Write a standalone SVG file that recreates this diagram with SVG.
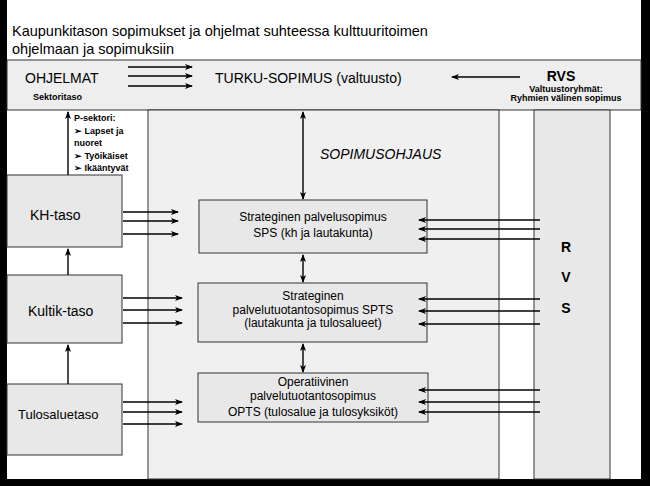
<svg xmlns="http://www.w3.org/2000/svg" width="650" height="486" viewBox="0 0 650 486">
<defs>
<marker id="a" markerWidth="8" markerHeight="6" refX="7" refY="3" orient="auto-start-reverse" markerUnits="userSpaceOnUse"><path d="M0,0 L8,3 L0,6 L2,3 Z" fill="#000"/></marker>
</defs>
<style>
text{font-family:"Liberation Sans",Arial,sans-serif;fill:#000}
.bx{fill:#e8e8e8;stroke:#333;stroke-width:1}
.ar{stroke:#000;stroke-width:1.4;fill:none;marker-end:url(#a)}
.dar{stroke:#000;stroke-width:1.4;fill:none;marker-end:url(#a);marker-start:url(#a)}
</style>
<rect width="650" height="486" fill="#000"/>
<rect x="7" y="0" width="634" height="479" fill="#fff"/>
<g id="background">
<rect x="7" y="60" width="634" height="50" fill="#eeeeee" stroke="#333"/>
<rect x="148" y="110" width="351" height="369" fill="#f0f0f0" stroke="#333"/>
<rect x="534" y="110" width="76" height="369" fill="#e8e8e8" stroke="#333"/>
</g>
<g id="title">
<text x="12" y="36" font-size="14.5">Kaupunkitason sopimukset ja ohjelmat suhteessa kulttuuritoimen</text>
<text x="12" y="54" font-size="14.5">ohjelmaan ja sopimuksiin</text>
</g>
<g id="header">
<text x="25" y="83" font-size="14">OHJELMAT</text>
<text x="33" y="100" font-size="9" font-weight="bold">Sektoritaso</text>
<text x="215" y="83" font-size="14">TURKU-SOPIMUS (valtuusto)</text>
<text x="561" y="81" font-size="14" font-weight="bold" text-anchor="middle">RVS</text>
<text x="566" y="92" font-size="9" font-weight="bold" text-anchor="middle">Valtuustoryhmät:</text>
<text x="566" y="101" font-size="9" font-weight="bold" text-anchor="middle">Ryhmien välinen sopimus</text>
</g>
<g id="psektori">
<text x="74" y="121" font-weight="bold" font-size="9">P-sektori:</text>
<text x="74" y="134" font-weight="bold" font-size="9">➢ Lapset ja</text>
<text x="74" y="146" font-weight="bold" font-size="9">nuoret</text>
<text x="74" y="159" font-weight="bold" font-size="9">➢ Työikäiset</text>
<text x="74" y="171" font-weight="bold" font-size="9">➢ Ikääntyvät</text>
</g>
<text x="320" y="159" font-size="14" font-style="italic">SOPIMUSOHJAUS</text>
<g id="rvs-col">
<text x="566" y="252" font-size="14" text-anchor="middle" font-weight="bold">R</text>
<text x="566" y="282" font-size="14" text-anchor="middle" font-weight="bold">V</text>
<text x="566" y="313" font-size="14" text-anchor="middle" font-weight="bold">S</text>
</g>
<g id="kh"><rect class="bx" x="7" y="175" width="115" height="72"/><text x="30" y="220" font-size="14">KH-taso</text></g>
<g id="kultik"><rect class="bx" x="7" y="275" width="115" height="68"/><text x="28" y="316" font-size="14">Kultik-taso</text></g>
<g id="tulos"><rect class="bx" x="7" y="384" width="115" height="71"/><text x="18" y="419" font-size="13">Tulosaluetaso</text></g>
<g id="sps"><rect class="bx" x="199" y="200" width="228" height="53"/>
<text x="313" y="221" font-size="12" text-anchor="middle">Strateginen palvelusopimus</text>
<text x="313" y="237" font-size="12" text-anchor="middle">SPS (kh ja lautakunta)</text></g>
<g id="spts"><rect class="bx" x="198" y="283" width="229" height="59"/>
<text x="313" y="300" font-size="12" text-anchor="middle">Strateginen</text>
<text x="313" y="314" font-size="12" text-anchor="middle">palvelutuotantosopimus SPTS</text>
<text x="313" y="327" font-size="12" text-anchor="middle">(lautakunta ja tulosalueet)</text></g>
<g id="opts"><rect class="bx" x="198" y="373" width="230" height="49"/>
<text x="313" y="386" font-size="12" text-anchor="middle">Operatiivinen</text>
<text x="313" y="400" font-size="12" text-anchor="middle">palvelutuotantosopimus</text>
<text x="313" y="416" font-size="12" text-anchor="middle">OPTS (tulosalue ja tulosyksiköt)</text></g>
<g id="connectors">
<path class="ar" d="M128 67H192"/><path class="ar" d="M128 76H192"/><path class="ar" d="M128 86H192"/>
<path class="ar" d="M520 77H452"/>
<path class="dar" d="M303 112V199"/>
<path class="dar" d="M303 255V282"/>
<path class="dar" d="M303 344V372"/>
<path class="ar" d="M68 175V112"/>
<path class="ar" d="M68 275V249"/>
<path class="ar" d="M68 384V345"/>
<path class="ar" d="M123 212H178"/><path class="ar" d="M123 221H178"/><path class="ar" d="M123 234H178"/>
<path class="ar" d="M123 298H182"/><path class="ar" d="M123 310H182"/><path class="ar" d="M123 323H182"/>
<path class="ar" d="M123 402H182"/><path class="ar" d="M123 412H182"/><path class="ar" d="M123 424H182"/>
<path class="ar" d="M540 220H419"/><path class="ar" d="M540 229H419"/><path class="ar" d="M540 239H419"/>
<path class="ar" d="M540 299H419"/><path class="ar" d="M540 311H419"/><path class="ar" d="M540 324H419"/>
<path class="ar" d="M540 390H419"/><path class="ar" d="M540 402H419"/><path class="ar" d="M540 412H419"/>
</g>
</svg>
